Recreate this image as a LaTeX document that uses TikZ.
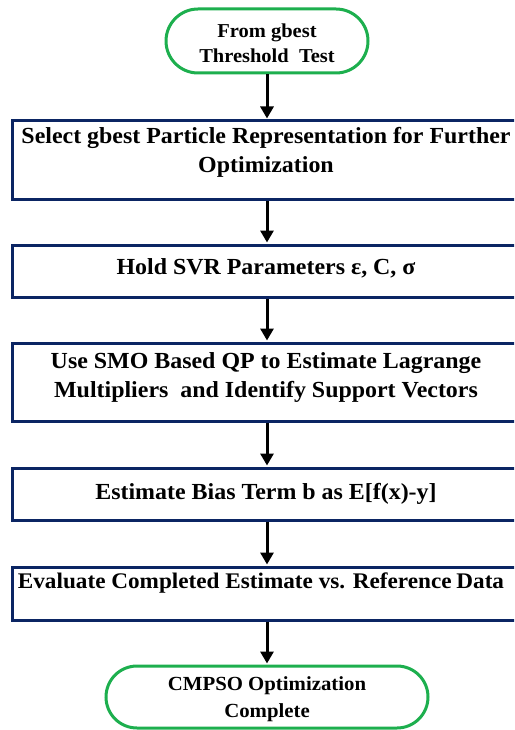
\documentclass[tikz,border=0pt]{standalone}
\usepackage{fontspec}
\setmainfont{Liberation Serif}[FakeStretch=1.04]
\usetikzlibrary{shapes.misc,arrows.meta}
\definecolor{termgreen}{HTML}{1DAF4E}
\definecolor{boxnavy}{HTML}{0B2563}
\tikzset{
  terminal/.style={rounded rectangle, draw=termgreen, line width=3pt, fill=white, inner sep=0pt},
  stepbox/.style={rectangle, draw=boxnavy, line width=3pt, fill=white, inner sep=0pt, minimum width=508pt},
  txt/.style={align=center, font=\fontsize{23}{29}\selectfont\bfseries, inner sep=0pt},
  flow/.style={line width=3pt, -{Triangle[length=12pt,width=13pt]}, shorten >=1pt}
}
\begin{document}
\begin{tikzpicture}[x=1pt,y=-1pt]
\useasboundingbox (0,0) rectangle (514,730);
\clip (0,0) rectangle (514,730);
% terminals and process boxes
\node[terminal, minimum width=202pt, minimum height=64pt] (start) at (267,41) {};
\node[txt, font=\fontsize{19.7}{25}\selectfont\bfseries] at (267,43) {From gbest\\Threshold\ \ Test};

\node[stepbox, minimum height=78pt] (b1) at (266,160) {};
\node[txt] at (266,152) {Select gbest Particle Representation for Further\\Optimization};

\node[stepbox, minimum height=52pt] (b2) at (266,271) {};
\node[txt] at (266,268.5) {Hold SVR Parameters ε, C, σ};

\node[stepbox, minimum height=78pt] (b3) at (266,382) {};
\node[txt] at (266,377) {Use SMO Based QP to Estimate Lagrange\\Multipliers\ \ and Identify Support Vectors};

\node[stepbox, minimum height=52pt] (b4) at (266,494) {};
\node[txt] at (266,493.5) {Estimate Bias Term b as E[f(x)-y]};

\node[stepbox, minimum height=53pt] (b5) at (266,593.5) {};
\node[txt, font=\fontsize{22.3}{29}\selectfont\bfseries] at (261,583.5) {Evaluate Completed Estimate vs. Reference\kern-1pt\ Data};

\node[terminal, minimum width=322pt, minimum height=62pt] (stop) at (267,697) {};
\node[txt, font=\fontsize{20}{27}\selectfont\bfseries] at (267,699) {CMPSO Optimization\\Complete};

% connectors
\draw[flow] (start.south) -- (start.south |- b1.north);
\draw[flow] (start.south |- b1.south) -- (start.south |- b2.north);
\draw[flow] (start.south |- b2.south) -- (start.south |- b3.north);
\draw[flow] (start.south |- b3.south) -- (start.south |- b4.north);
\draw[flow] (start.south |- b4.south) -- (start.south |- b5.north);
\draw[flow] (start.south |- b5.south) -- (stop.north);
\end{tikzpicture}
\end{document}
